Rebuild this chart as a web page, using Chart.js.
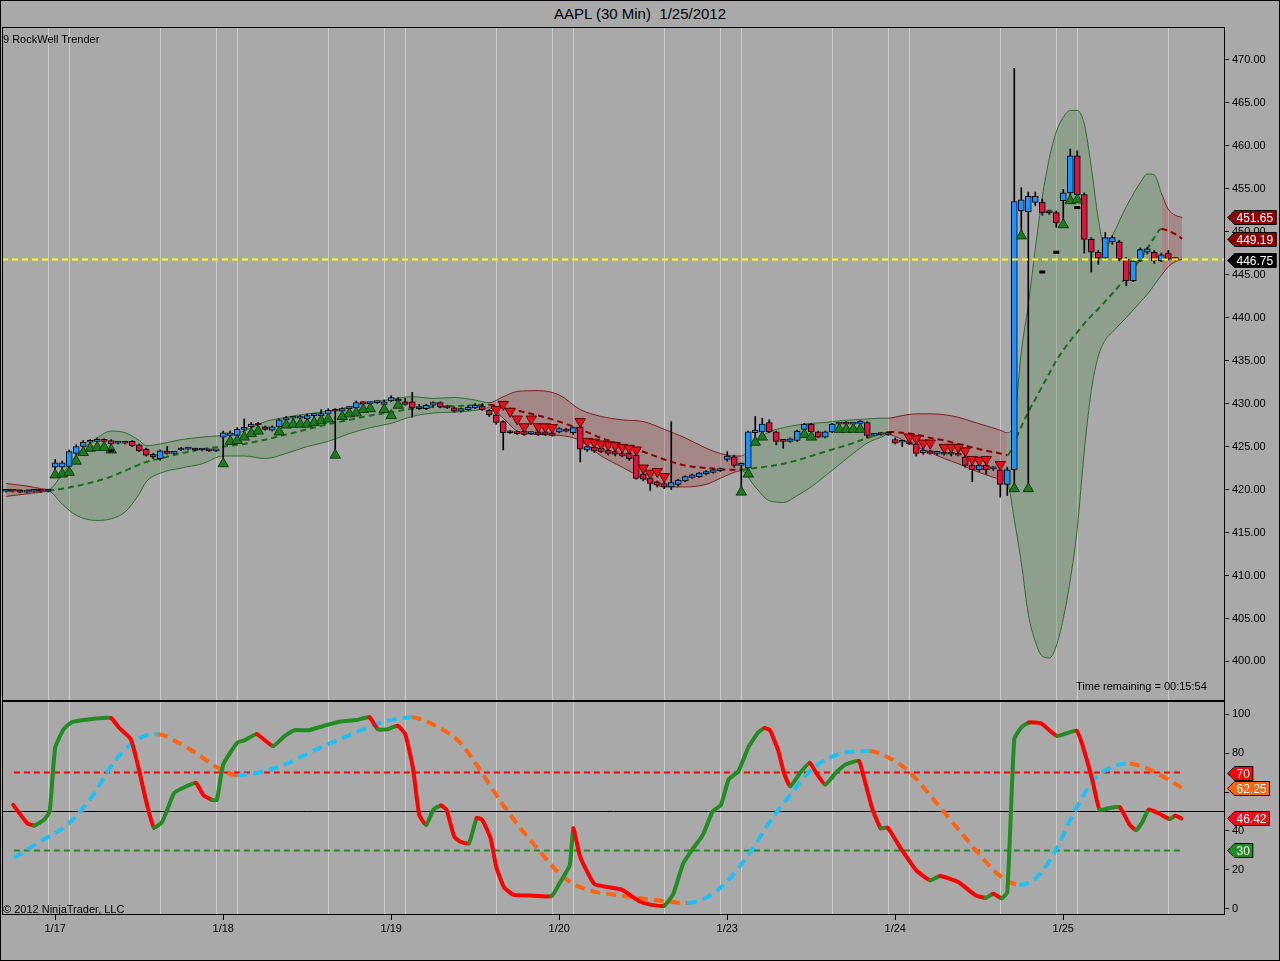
<!DOCTYPE html>
<html>
<head>
<meta charset="utf-8">
<title>AAPL (30 Min) 1/25/2012</title>
<script src="https://cdn.jsdelivr.net/npm/chart.js@4.4.1/dist/chart.umd.min.js"></script>
<style>
  html, body { margin: 0; padding: 0; }
  body {
    width: 1280px; height: 961px; position: relative; overflow: hidden;
    background: #a9a9a9; font-family: "Liberation Sans", Arial, sans-serif;
  }
  #frame { position: absolute; left: 0; top: 0; width: 1278px; height: 959px; border: 1px solid #000; }
  #title { position: absolute; left: 0; top: 5px; width: 1280px; text-align: center; font-size: 15px; color: #000; }
  .wrap { position: absolute; left: 0; width: 1280px; }
  #priceWrap { top: 27px; height: 674px; }
  #oscWrap { top: 701px; height: 260px; }
  .note { position: absolute; font-size: 11px; color: #000; white-space: nowrap; }
</style>
</head>
<body>
<div id="frame"></div>
<div id="title">AAPL (30 Min)&nbsp; 1/25/2012</div>
<div class="wrap" id="priceWrap"><canvas id="price-chart" width="1280" height="674"></canvas></div>
<div class="wrap" id="oscWrap"><canvas id="osc-chart" width="1280" height="260"></canvas></div>
<div class="note" style="left:3px; top:33px;">9 RockWell Trender</div>
<div class="note" style="left:1076px; top:680px;">Time remaining = 00:15:54</div>
<div class="note" style="left:3px; top:903px;">© 2012 NinjaTrader, LLC</div>

<script>
// ---- 30 min bars, index 0 = first bar on screen (24 bars per day) ----
const opens = [
  419.8,419.9,419.8,419.7,419.8,419.9,419.8,422.6,422.6,422.7,424.2,425.0,
  425.5,425.6,425.7,425.7,425.4,425.5,425.6,425.2,424.7,424.1,423.6,424.3,
  424.2,424.6,424.7,424.7,424.6,424.6,424.5,426.1,426.3,426.3,427.0,427.3,
  427.6,427.3,426.9,427.3,428.1,428.3,428.3,428.2,428.6,428.6,428.8,429.2,
  429.1,429.4,429.5,430.1,430.0,430.1,429.9,430.3,430.5,430.2,430.2,429.6,
  429.4,429.8,430.1,429.6,429.5,429.1,429.3,429.5,429.7,429.2,428.7,427.9,
  426.7,426.6,426.8,426.5,426.7,426.7,426.6,426.7,426.9,426.6,427.3,424.6,
  424.9,424.8,424.6,424.4,424.2,424.2,424.0,421.8,421.3,420.9,420.7,420.3,
  420.6,421.0,421.4,421.5,421.8,422.0,422.2,423.5,423.8,422.8,422.5,426.6,
  426.7,427.8,426.7,425.7,425.6,425.7,427.0,427.6,426.7,426.1,426.7,427.6,
  427.7,427.6,427.7,427.8,426.3,426.4,426.4,425.8,425.5,425.5,425.3,424.3,
  424.5,424.2,424.3,424.2,424.2,423.8,422.8,422.3,422.8,422.4,422.3,420.6,
  422.3,452.4,452.3,453.4,453.4,452.3,452.2,453.6,454.5,458.8,454.3,449.1,
  447.6,446.9,448.8,448.8,446.8,444.3,446.6,447.6,447.6,446.6,447.5,446.8
];
const highs = [
  420.0,420.0,419.9,419.9,420.0,420.0,420.0,423.5,423.3,424.6,425.2,425.7,
  425.8,426.0,425.9,425.8,425.6,425.6,425.7,425.3,424.8,424.2,424.6,425.0,
  424.4,424.9,424.9,424.8,424.7,424.7,424.6,426.8,426.8,427.2,428.2,427.8,
  427.8,427.4,427.4,428.2,428.5,428.5,428.6,428.8,428.8,429.3,429.4,429.4,
  429.5,429.6,430.3,430.2,430.2,430.3,430.4,430.9,430.7,430.6,431.3,429.9,
  429.9,430.2,430.2,429.8,429.6,429.5,429.8,430.0,430.0,429.3,428.8,428.0,
  426.9,426.8,426.9,426.7,426.8,426.9,426.7,427.2,427.1,427.3,427.4,425.1,
  425.0,424.9,424.7,424.6,424.4,424.3,424.1,422.0,421.4,421.0,420.8,427.9,
  421.2,421.6,421.8,422.0,422.2,422.4,422.5,424.4,424.0,423.1,426.8,428.5,
  428.3,428.1,426.8,425.8,426.0,426.9,427.7,427.7,426.8,426.8,427.7,427.8,
  427.9,427.8,428.0,427.9,426.5,426.6,426.6,426.0,425.7,425.6,425.4,424.8,
  424.6,424.4,424.4,424.3,424.3,424.0,423.0,422.9,423.0,422.7,422.4,422.6,
  469.0,455.1,454.6,454.6,453.8,452.5,452.4,454.9,459.6,459.4,454.5,449.3,
  447.8,449.9,449.5,449.0,447.0,446.8,448.1,448.2,447.8,447.5,447.8,447.0
];
const lows = [
  419.7,419.7,419.6,419.6,419.7,419.7,419.7,422.3,422.4,422.5,424.0,424.9,
  425.4,425.5,425.5,425.2,425.3,425.3,425.0,424.4,423.9,423.6,423.4,424.1,
  424.1,424.5,424.6,424.5,424.5,424.4,424.4,423.5,426.1,426.2,426.7,427.1,
  427.4,426.9,426.8,427.2,428.0,428.2,428.2,428.1,428.4,428.5,428.7,424.5,
  429.0,429.3,429.4,429.9,429.9,430.0,429.8,430.2,430.2,429.8,428.4,429.3,
  429.3,429.6,429.5,429.4,429.0,429.0,429.2,429.4,429.2,428.5,427.6,424.6,
  426.5,426.4,426.3,426.4,426.3,426.3,426.2,426.6,426.7,426.4,423.2,424.4,
  424.3,424.3,424.0,423.9,423.8,423.4,421.2,421.0,419.9,420.3,420.1,420.0,
  420.4,420.9,421.3,421.4,421.7,421.9,422.1,423.3,422.6,420.2,422.3,426.0,
  426.6,426.6,425.2,424.8,425.5,425.6,426.9,426.6,426.0,426.0,426.6,427.5,
  427.5,427.5,427.5,426.0,426.2,426.3,426.3,425.3,425.0,425.2,423.9,424.1,
  424.1,424.0,424.0,423.9,423.9,422.6,420.9,422.1,421.8,422.2,419.1,419.3,
  420.6,449.9,420.6,453.0,451.9,452.0,450.5,451.2,454.0,454.1,447.5,445.3,
  446.2,446.8,448.5,446.6,443.7,444.2,446.5,447.4,446.3,446.5,446.7,446.6
];
const closes = [
  419.9,419.8,419.7,419.8,419.9,419.8,419.9,423.1,423.1,424.4,425.0,425.5,
  425.6,425.8,425.6,425.3,425.5,425.4,425.1,424.5,424.0,423.8,424.5,424.2,
  424.3,424.8,424.7,424.6,424.6,424.5,424.5,426.6,426.6,427.0,427.1,427.6,
  427.5,427.0,427.3,428.1,428.3,428.3,428.4,428.6,428.6,428.8,429.2,429.1,
  429.4,429.5,430.1,430.0,430.1,430.1,430.2,430.7,430.3,429.9,429.5,429.4,
  429.8,430.1,429.6,429.5,429.1,429.4,429.6,429.8,429.3,428.7,427.8,426.6,
  426.6,426.5,426.4,426.6,426.4,426.4,426.3,427.1,426.8,427.2,424.7,425.0,
  424.5,424.4,424.2,424.1,423.9,423.6,421.3,421.2,420.7,420.5,420.3,420.8,
  421.1,421.5,421.7,421.9,422.1,422.3,422.4,423.9,422.8,423.0,426.7,426.9,
  427.6,426.7,425.6,425.6,425.9,426.8,427.6,426.7,426.1,426.7,427.6,427.7,
  427.6,427.7,427.8,426.3,426.4,426.4,426.5,425.4,425.5,425.3,424.2,424.6,
  424.2,424.3,424.1,424.1,424.0,422.8,422.3,422.8,422.3,422.6,420.6,422.3,
  453.5,453.7,454.1,454.1,452.2,452.2,451.0,454.5,458.8,454.3,449.1,447.6,
  446.9,449.3,449.3,446.8,444.3,446.6,447.9,448.0,446.6,447.3,446.8,446.75
];

// Trender band (upper / lower / middle) and its trend state, g = up, r = down
const bandIdx = [0,3,5,6,8,10,13,15,17,19,20,22,25,28,31,34,37,40,43,46,49,52,55,58,61,64,67,
  69,71,73,76,79,82,85,88,91,94,97,100,102,104,
  105,107,109,111,113,115,117,119,121,123,125,
  126,128,130,132,134,136,138,140,142,
  143,144,145,146,147,148,149,150,151,152,153,154,155,156,157,158,160,162,163,164,
  165,166,167,168];
const bandUpper = [420.7,420.4,420.1,420.0,421.8,424.0,426.0,426.8,426.6,425.7,425.1,425.3,425.8,426.1,426.3,426.8,427.9,428.4,428.8,429.1,429.6,430.1,430.5,430.8,430.6,430.7,430.4,
  430.1,430.8,431.4,431.5,431.0,429.3,428.5,428.1,427.9,427.0,426.0,424.8,424.2,423.9,
  423.9,425.6,426.7,427.2,427.5,427.7,427.8,428.0,428.1,428.2,428.3,
  428.3,428.6,428.8,428.8,428.7,428.4,427.9,427.4,426.9,
  426.6,428.0,436.0,441.5,448.0,454.0,458.5,461.6,463.3,464.1,464.1,462.5,457.5,451.5,448.0,449.5,452.9,455.7,456.7,456.6,
  454.5,452.6,451.9,451.65];
const bandLower = [419.2,419.5,419.7,419.8,418.3,417.0,416.4,416.6,417.4,419.5,420.9,421.9,422.5,423.0,423.9,423.9,423.6,424.2,425.0,425.6,426.5,427.2,427.7,428.5,428.9,429.0,429.2,
  429.5,428.3,426.8,426.4,426.3,425.7,423.9,422.6,421.3,420.3,420.3,420.6,421.3,422.0,
  422.2,420.3,418.7,418.5,419.3,420.3,421.6,422.9,424.2,425.4,426.1,
  426.4,425.8,425.0,424.3,423.6,423.0,422.3,421.7,421.2,
  420.8,416.5,411.5,405.5,402.3,400.6,400.4,401.8,405.0,409.5,415.5,424.5,431.5,435.5,437.4,438.3,440.0,441.8,442.7,443.8,
  444.9,445.9,446.5,446.8];
const bandMid = [419.9,419.9,419.9,419.9,420.1,420.4,421.0,421.5,422.2,422.9,423.2,423.6,424.2,424.7,425.0,425.3,425.8,426.4,427.0,427.6,428.1,428.6,429.0,429.4,429.6,429.7,429.8,
  429.85,429.6,429.2,428.6,427.9,427.0,426.0,425.2,424.4,423.5,422.8,422.5,422.35,422.3,
  422.3,422.5,422.7,423.0,423.4,423.9,424.4,424.9,425.4,426.0,426.5,
  426.7,426.6,426.4,426.0,425.7,425.3,424.9,424.5,424.2,
  424.0,425.5,427.3,429.0,430.5,432.0,433.5,435.0,436.2,437.3,438.3,439.3,440.2,441.0,441.9,442.8,444.7,446.8,448.0,449.3,
  450.3,450.1,449.7,449.19];
const bandState = ["r","r","r","g","g","g","g","g","g","g","g","g","g","g","g","g","g","g","g","g","g","g","g","g","g","g","g",
  "r","r","r","r","r","r","r","r","r","r","r","r","r","r",
  "g","g","g","g","g","g","g","g","g","g","g",
  "r","r","r","r","r","r","r","r","r",
  "g","g","g","g","g","g","g","g","g","g","g","g","g","g","g","g","g","g","g","g",
  "r","r","r","r"];

// Trend signals
const upMarkIdx = [7,8,9,10,11,12,13,14,15, 31,32,33,34,35,36,39,40,41,42,43,44,45,46,47,48,49,50,51,52,54,55,56,
  105,106,107,108,114,115,119,120,121,122, 144,145,146,151,152,153];
const upMarkPrice = [421.7,421.8,422.0,423.3,424.3,424.8,424.9,424.9,424.6, 423.0,425.6,425.7,426.1,426.5,426.8,426.7,427.5,427.6,427.6,427.6,427.8,428.0,428.2,424.0,428.5,428.8,428.9,429.3,429.4,429.3,428.6,429.8,
  419.7,421.8,425.5,426.1,426.4,426.1,427.0,427.0,427.0,427.0, 420.1,449.5,420.1,450.8,453.6,453.7];
const downMarkIdx = [70,71,72,73,74,75,76,77,78, 82,83,84,85,86,87,88,89,90,91,92,93,94,
  129,130,131,132,134,135,136,137,138,139,140,142];
const downMarkPrice = [429.3,429.9,429.1,428.2,427.3,428.2,427.3,427.3,427.2, 427.9,425.6,425.5,425.3,425.2,425.1,424.9,424.8,424.6,422.5,421.9,422.1,421.5,
  426.1,425.9,425.4,425.4,424.9,424.9,424.9,424.5,423.5,423.4,423.5,422.9];
const dashIdx = [15,148,150,153];
const dashPrice = [424.5,445.3,447.6,452.8];

// Oscillator (fast line and its slow signal)
const oscIdx = [1,3,4,5.4,6.2,7,8.2,9.3,11,13.3,15,16.1,17.8,18.9,20,21.1,22.3,24,25.7,27.1,28.2,29.4,30.1,31,33,34.1,35.8,38.1,39.8,41.2,43.2,45.4,47.7,50,51.9,53.1,54.5,55.9,57,58.1,59,60,61,62.1,62.9,64,64.9,66.1,67.2,68,69.2,70,71.1,72.5,74.8,77.9,79,80.5,81,82,84,86,88,
  90.5,92.2,94,95.3,96.7,98.1,99.5,100.9,102.1,103.2,104.6,106,107.4,108.3,109.1,110.3,111.1,112,113.4,114.8,115.7,117,118.5,119.9,121.8,122.4,123.7,124.9,125.9,127.8,130,132,133.4,136,138.4,139.9,141,142.2,143,
  144,145,146.1,147.8,150.1,152.9,154,155.2,156.2,158,159.1,160.5,161.4,162.2,163.2,164.6,166.2,167,167.9];
const oscVal = [53.4,44,42.8,45.7,50,82.8,92.2,95.7,96.9,97.9,97.9,93.1,87.1,72.4,55.2,41.7,44.8,59.5,62.9,64.7,58.3,56,56,74.1,85.3,86.6,89.7,83.6,88.8,91.7,91.7,94,96.2,96.9,98.3,92.2,92.2,94,89.7,72.4,48.3,43.1,50.9,53.1,50.9,37.1,34.5,33.6,46.6,45.7,36.2,21.6,11.2,7.2,6.9,6.6,12.9,22.4,41.4,26.7,12.9,11.2,9.8,
  3.8,2.1,1.7,7.8,23.3,31,37.9,50,53.4,66.4,70.7,82.8,90.5,92.8,91.7,81,69.8,62.9,69.8,75,69.8,63.8,69.8,74.1,75.9,69,51.7,41.4,41.7,31,19.8,14.7,16.9,13.8,7.2,5.7,7.8,5.5,8.6,
  87.1,93.1,95.7,95.3,88.8,91.4,81,65.5,50.9,52.1,52.1,43.1,40.5,44,50.9,49.1,46.2,47.8,46.42];
const sigIdx = [1.1,4.8,8.7,12.1,15.5,17.8,20,21.7,24.6,27.4,30.2,33,35.8,39.8,44.3,48.8,52.8,55.6,57.9,61.3,64.6,67.5,70.3,73.1,75.9,78.8,81,83.8,86.5,89.4,93.3,97.3,
  100.1,102.9,106.3,109.1,112,114.8,117.6,120.4,123.3,126.1,128.9,132.3,135.7,139.1,141.9,144.7,147,149.8,152.6,155.6,158.3,160.5,163.3,165.6,167.9];
const sigVal = [26.2,34.5,43.1,56.9,75.9,84.5,89.1,89.7,85.3,79.3,72.4,68.6,69.8,74.1,81.9,88.8,94.8,97.4,98.3,94,86.2,72.4,56.9,43.1,31,19,12.9,9,7.5,6,4.3,3.1,
  6,13.8,29.3,44.8,58.6,70.7,77.6,80.5,81,77.6,70.7,56.9,42.2,27.6,17.2,12.4,15.5,29.3,50,67.2,73.3,74.5,71.6,67.2,62.25];
const overBought = 70;
const overSold = 30;
const oscCenter = 50;

// Axis ticks / labels
const priceTicks = [400,405,410,415,420,425,430,435,440,445,450,455,460,465,470];
const oscTicks = [0,20,40,60,80,100];
const dayIdx = [7,31,55,79,103,127,151];
const dayLabels = ["1/17","1/18","1/19","1/20","1/23","1/24","1/25"];
const gridIdx = [6,9,22,30,33,46,54,57,70,78,81,94,102,105,118,126,129,142,150,153,166];

const xMin = -0.6;
const xMax = 174.1;
const levelStart = 1.1;
const levelEnd = 167.9;

Chart.defaults.font.family = "'Liberation Sans', Arial, sans-serif";
Chart.defaults.font.size = 11;
Chart.defaults.color = "#000";

// no extra room for half tick labels, the panels are fixed
const noPad = (s) => {
  s.paddingTop = 0;
  s.paddingBottom = 0;
  s.paddingLeft = 0;
  s.paddingRight = 0;
};

// black frame around each panel
const panelBorder = {
  id: "panelBorder",
  afterDraw(chart) {
    const { ctx, chartArea: a } = chart;
    ctx.save();
    ctx.strokeStyle = "#000";
    ctx.lineWidth = 1;
    ctx.strokeRect(a.left + 0.5, a.top + 0.5, a.right - a.left - 1, a.bottom - a.top - 1);
    ctx.restore();
  },
};

// value tags on the right axis
const sideTags = {
  id: "sideTags",
  afterDraw(chart, args, opts) {
    const { ctx, chartArea, scales } = chart;
    ctx.save();
    ctx.font = "12px 'Liberation Sans', Arial, sans-serif";
    ctx.textBaseline = "middle";
    ctx.lineWidth = 1;
    (opts.items || []).forEach((t) => {
      const y = Math.round(scales.y.getPixelForValue(t.value)) + 0.5;
      const x = chartArea.right + 2.5;
      const w = ctx.measureText(t.text).width + 5;
      const h = 14;
      ctx.beginPath();
      ctx.moveTo(x, y);
      ctx.lineTo(x + 7, y - h / 2);
      ctx.lineTo(x + 7 + w, y - h / 2);
      ctx.lineTo(x + 7 + w, y + h / 2);
      ctx.lineTo(x + 7, y + h / 2);
      ctx.closePath();
      ctx.fillStyle = t.bg;
      ctx.fill();
      ctx.strokeStyle = "#000";
      ctx.stroke();
      ctx.fillStyle = "#fff";
      ctx.fillText(t.text, x + 9, y + 1);
    });
    ctx.restore();
  },
};

const gridAxis = (position) => ({
  type: "linear",
  position: position,
  min: xMin,
  max: xMax,
  offset: false,
  afterBuildTicks: (s) => { s.ticks = gridIdx.map((v) => ({ value: v })); },
  ticks: { display: false },
  grid: { color: "#cbcbcb", drawTicks: false, offset: false },
  border: { display: false },
  afterFit: (s) => { s.height = 0; noPad(s); },
});

// Price panel
const candleUp = "#1e90ff";
const candleDown = "#dc143c";
const bodyData = opens.map((o, i) => ({ x: i, y: [o, closes[i]] }));
const wickData = lows.map((l, i) => ({ x: i, y: [l, highs[i]] }));
const bodyColors = opens.map((o, i) => (closes[i] >= o ? candleUp : candleDown));
const bandPts = (arr) => bandIdx.map((v, i) => ({ x: v, y: arr[i] }));
const byTrend = (up, down) => (c) => (bandState[c.p0DataIndex] === "g" ? up : down);
const lastPrice = closes[closes.length - 1];

new Chart(document.getElementById("price-chart"), {
  type: "bar",
  data: {
    datasets: [
      {
        type: "line",
        label: "Upper",
        data: bandPts(bandUpper),
        borderWidth: 1,
        borderColor: "#2e6b2e",
        pointRadius: 0,
        cubicInterpolationMode: "monotone",
        segment: { borderColor: byTrend("#2e6b2e", "#7d1f1f") },
        order: 9,
      },
      {
        type: "line",
        label: "Lower",
        data: bandPts(bandLower),
        borderWidth: 1,
        borderColor: "#2e6b2e",
        backgroundColor: "rgba(80,140,75,0.3)",
        fill: "-1",
        pointRadius: 0,
        cubicInterpolationMode: "monotone",
        segment: {
          borderColor: byTrend("#2e6b2e", "#7d1f1f"),
          backgroundColor: byTrend("rgba(80,140,75,0.3)", "rgba(150,40,40,0.25)"),
        },
        order: 10,
      },
      {
        type: "line",
        label: "Middle",
        data: bandPts(bandMid),
        borderWidth: 2,
        borderDash: [6, 4],
        borderColor: "#1d6b1d",
        pointRadius: 0,
        cubicInterpolationMode: "monotone",
        segment: { borderColor: byTrend("#1d6b1d", "#8b0000") },
        order: 8,
      },
      {
        type: "bar",
        label: "Wicks",
        data: wickData,
        barThickness: 1,
        backgroundColor: "#000",
        borderWidth: 0,
        grouped: false,
        order: 6,
      },
      {
        type: "bar",
        label: "Bodies",
        data: bodyData,
        barThickness: 6,
        backgroundColor: bodyColors,
        borderColor: "#000",
        borderWidth: 1,
        borderSkipped: false,
        minBarLength: 2,
        grouped: false,
        order: 5,
      },
      {
        type: "line",
        label: "Up",
        data: upMarkIdx.map((v, i) => ({ x: v, y: upMarkPrice[i] })),
        showLine: false,
        pointStyle: "triangle",
        pointRadius: 6,
        pointBackgroundColor: "#1f7a1f",
        pointBorderColor: "#0d3d0d",
        pointBorderWidth: 1,
        order: 3,
      },
      {
        type: "line",
        label: "Down",
        data: downMarkIdx.map((v, i) => ({ x: v, y: downMarkPrice[i] })),
        showLine: false,
        pointStyle: "triangle",
        pointRotation: 180,
        pointRadius: 6,
        pointBackgroundColor: "#e8101c",
        pointBorderColor: "#5a0000",
        pointBorderWidth: 1,
        order: 2,
      },
      {
        type: "line",
        label: "Dash",
        data: dashIdx.map((v, i) => ({ x: v, y: dashPrice[i] })),
        showLine: false,
        pointStyle: "line",
        pointRadius: 3,
        pointBorderWidth: 3,
        pointBorderColor: "#000",
        order: 1,
      },
      {
        type: "line",
        label: "Last",
        data: [{ x: xMin, y: lastPrice }, { x: xMax, y: lastPrice }],
        borderColor: "#ffff00",
        borderWidth: 2,
        borderDash: [6, 4],
        pointRadius: 0,
        order: 0,
      },
    ],
  },
  options: {
    responsive: false,
    animation: false,
    devicePixelRatio: 1,
    layout: { autoPadding: false, padding: { left: 2, right: 0, top: 0, bottom: 0 } },
    plugins: {
      legend: { display: false },
      tooltip: { enabled: false },
      sideTags: {
        items: [
          { value: bandUpper[bandUpper.length - 1], text: bandUpper[bandUpper.length - 1].toFixed(2), bg: "#8b0000" },
          { value: bandMid[bandMid.length - 1], text: bandMid[bandMid.length - 1].toFixed(2), bg: "#8b0000" },
          { value: lastPrice, text: lastPrice.toFixed(2), bg: "#000" },
        ],
      },
    },
    scales: {
      x: { type: "linear", min: xMin, max: xMax, offset: false, display: false },
      xg: gridAxis("bottom"),
      y: {
        type: "linear",
        position: "right",
        min: 395.4,
        max: 473.8,
        beginAtZero: false,
        afterBuildTicks: (s) => { s.ticks = priceTicks.map((v) => ({ value: v })); },
        ticks: { padding: 3, callback: (v) => Number(v).toFixed(2) },
        grid: { drawOnChartArea: false, color: "#000", tickLength: 4 },
        border: { display: false },
        afterFit: (s) => { s.width = 55; noPad(s); },
      },
    },
  },
  plugins: [panelBorder, sideTags],
});

// Oscillator panel
const rising = (up, down) => (c) => (c.p1.parsed.y >= c.p0.parsed.y ? up : down);

new Chart(document.getElementById("osc-chart"), {
  type: "line",
  data: {
    datasets: [
      {
        label: "Fast",
        data: oscIdx.map((v, i) => ({ x: v, y: oscVal[i] })),
        borderWidth: 4,
        borderColor: "#228b22",
        borderCapStyle: "round",
        borderJoinStyle: "round",
        pointRadius: 0,
        tension: 0.15,
        segment: { borderColor: rising("#228b22", "#ff0000") },
        order: 0,
      },
      {
        label: "Signal",
        data: sigIdx.map((v, i) => ({ x: v, y: sigVal[i] })),
        borderWidth: 4,
        borderDash: [10, 6],
        borderColor: "#1ec0f5",
        pointRadius: 0,
        cubicInterpolationMode: "monotone",
        segment: { borderColor: rising("#1ec0f5", "#ff6410") },
        order: 1,
      },
      {
        label: "Overbought",
        data: [{ x: levelStart, y: overBought }, { x: levelEnd, y: overBought }],
        borderColor: "#ff0000",
        borderWidth: 2,
        borderDash: [6, 4],
        pointRadius: 0,
        order: 2,
      },
      {
        label: "Oversold",
        data: [{ x: levelStart, y: overSold }, { x: levelEnd, y: overSold }],
        borderColor: "#228b22",
        borderWidth: 2,
        borderDash: [6, 4],
        pointRadius: 0,
        order: 3,
      },
      {
        label: "Center",
        data: [{ x: xMin, y: oscCenter }, { x: xMax, y: oscCenter }],
        borderColor: "#000",
        borderWidth: 1,
        pointRadius: 0,
        order: 4,
      },
    ],
  },
  options: {
    responsive: false,
    animation: false,
    devicePixelRatio: 1,
    layout: { autoPadding: false, padding: { left: 2, right: 0, top: 0, bottom: 0 } },
    plugins: {
      legend: { display: false },
      tooltip: { enabled: false },
      sideTags: {
        items: [
          { value: overBought, text: String(overBought), bg: "#ff0000" },
          { value: sigVal[sigVal.length - 1], text: sigVal[sigVal.length - 1].toFixed(2), bg: "#ff6410" },
          { value: oscVal[oscVal.length - 1], text: oscVal[oscVal.length - 1].toFixed(2), bg: "#e8101c" },
          { value: overSold, text: String(overSold), bg: "#228b22" },
        ],
      },
    },
    scales: {
      x: {
        type: "linear",
        position: "bottom",
        min: xMin,
        max: xMax,
        offset: false,
        afterBuildTicks: (s) => { s.ticks = dayIdx.map((v) => ({ value: v })); },
        ticks: { autoSkip: false, maxRotation: 0, padding: 2, callback: (v, i) => dayLabels[i] },
        grid: { drawOnChartArea: false, color: "#000", tickLength: 5 },
        border: { display: false },
        afterFit: (s) => { s.height = 46; noPad(s); },
      },
      xg: gridAxis("top"),
      y: {
        type: "linear",
        position: "right",
        min: -3.1,
        max: 106.7,
        afterBuildTicks: (s) => { s.ticks = oscTicks.map((v) => ({ value: v })); },
        ticks: { padding: 3 },
        grid: { drawOnChartArea: false, color: "#000", tickLength: 4 },
        border: { display: false },
        afterFit: (s) => { s.width = 55; noPad(s); },
      },
    },
  },
  plugins: [panelBorder, sideTags],
});
</script>
</body>
</html>
